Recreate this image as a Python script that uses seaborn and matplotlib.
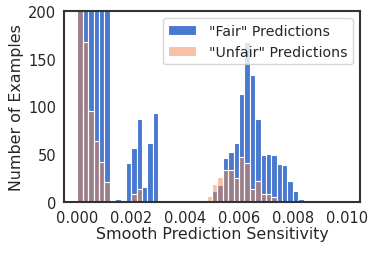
import numpy as np
import seaborn as sns
import matplotlib.pyplot as plt

# histogram bins of width 0.0002 starting at 0
bin_edges = [round(0.0002 * i, 4) for i in range(45)]

# counts per bin ("fair" predictions); first bins run off the top of the plot
fair_counts = [560, 470, 400, 330, 270, 215, 2, 3, 2, 41,
               57, 87, 16, 62, 93, 2, 0, 0, 0, 0,
               0, 0, 0, 0, 1, 12, 18, 46, 52, 62,
               113, 168, 133, 87, 49, 50, 49, 40, 39, 22,
               12, 3, 0, 0]

# counts per bin ("unfair" predictions)
unfair_counts = [240, 168, 95, 64, 42, 21, 0, 0, 0, 0,
                 8, 14, 0, 0, 0, 0, 0, 0, 0, 0,
                 0, 0, 0, 0, 6, 19, 26, 34, 34, 25,
                 47, 41, 14, 22, 8, 8, 5, 0, 0, 0,
                 0, 0, 0, 0]

centers = [(bin_edges[i] + bin_edges[i + 1]) / 2 for i in range(len(fair_counts))]

sns.set_style("white")
plt.rcParams['font.family'] = ['DejaVu Sans']
pal = sns.color_palette("muted")

fig = plt.figure(figsize=(3.74, 2.55), dpi=100)
ax = fig.add_axes([0.171, 0.204, 0.792, 0.749])

sns.histplot(x=centers, weights=fair_counts, bins=bin_edges, color=pal[0],
             alpha=1.0, edgecolor="white", linewidth=0.8,
             label='"Fair" Predictions', ax=ax)
sns.histplot(x=centers, weights=unfair_counts, bins=bin_edges, color=pal[1],
             alpha=0.5, edgecolor="white", linewidth=0.8,
             label='"Unfair" Predictions', ax=ax)

ax.set_xlim(-0.0005, 0.0105)
ax.set_ylim(0, 200)
ax.set_xticks([0.0, 0.002, 0.004, 0.006, 0.008, 0.010])
ax.set_xticklabels(["0.000", "0.002", "0.004", "0.006", "0.008", "0.010"])
ax.set_yticks([0, 50, 100, 150, 200])
ax.tick_params(labelsize=10.5, pad=2)
ax.set_xlabel("Smooth Prediction Sensitivity", fontsize=11.4, labelpad=1)
ax.set_ylabel("Number of Examples", fontsize=11.4, labelpad=3)
for s in ax.spines.values():
    s.set_linewidth(1.5)
    s.set_color(".2")

ax.legend(loc="upper right", fontsize=10.2, framealpha=0.8,
          borderaxespad=0.5, handlelength=1.95, handletextpad=0.9)

fig.savefig("out.png", dpi=100)
